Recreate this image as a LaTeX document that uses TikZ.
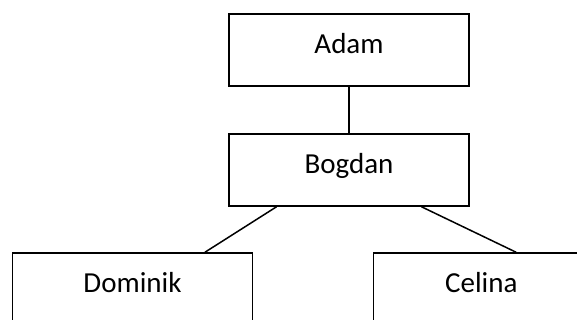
\documentclass[tikz,border=0pt]{standalone}
\usepackage{fontspec}
\setmainfont{Carlito}
\usetikzlibrary{calc}
\begin{document}
\begin{tikzpicture}[x=1pt,y=1pt,
  person/.style={draw=black, line width=1.5pt, minimum width=240pt, minimum height=72pt,
    inner sep=0pt, text height=19pt, text depth=12pt, font=\fontsize{29}{34}\selectfont},
  link/.style={draw=black, line width=1.5pt}]
\clip (0,0) rectangle (577,320);
\useasboundingbox (0,0) rectangle (577,320);
\node[person] (A) at (349,270) {Adam};
\node[person] (B) at (349,150) {Bogdan};
\node[person] (D) at (132.5,31) {Dominik};
\node[person, minimum width=216pt] (C) at (481.3,31) {Celina};
\draw[link] (A.south) -- (B.north);
\draw[link] ($(B.south west)!0.2!(B.south east)$) -- ($(D.north west)!0.8!(D.north east)$);
\draw[link] ($(B.south west)!0.8!(B.south east)$) -- ($(C.north west)!0.66!(C.north east)$);
\end{tikzpicture}
\end{document}
